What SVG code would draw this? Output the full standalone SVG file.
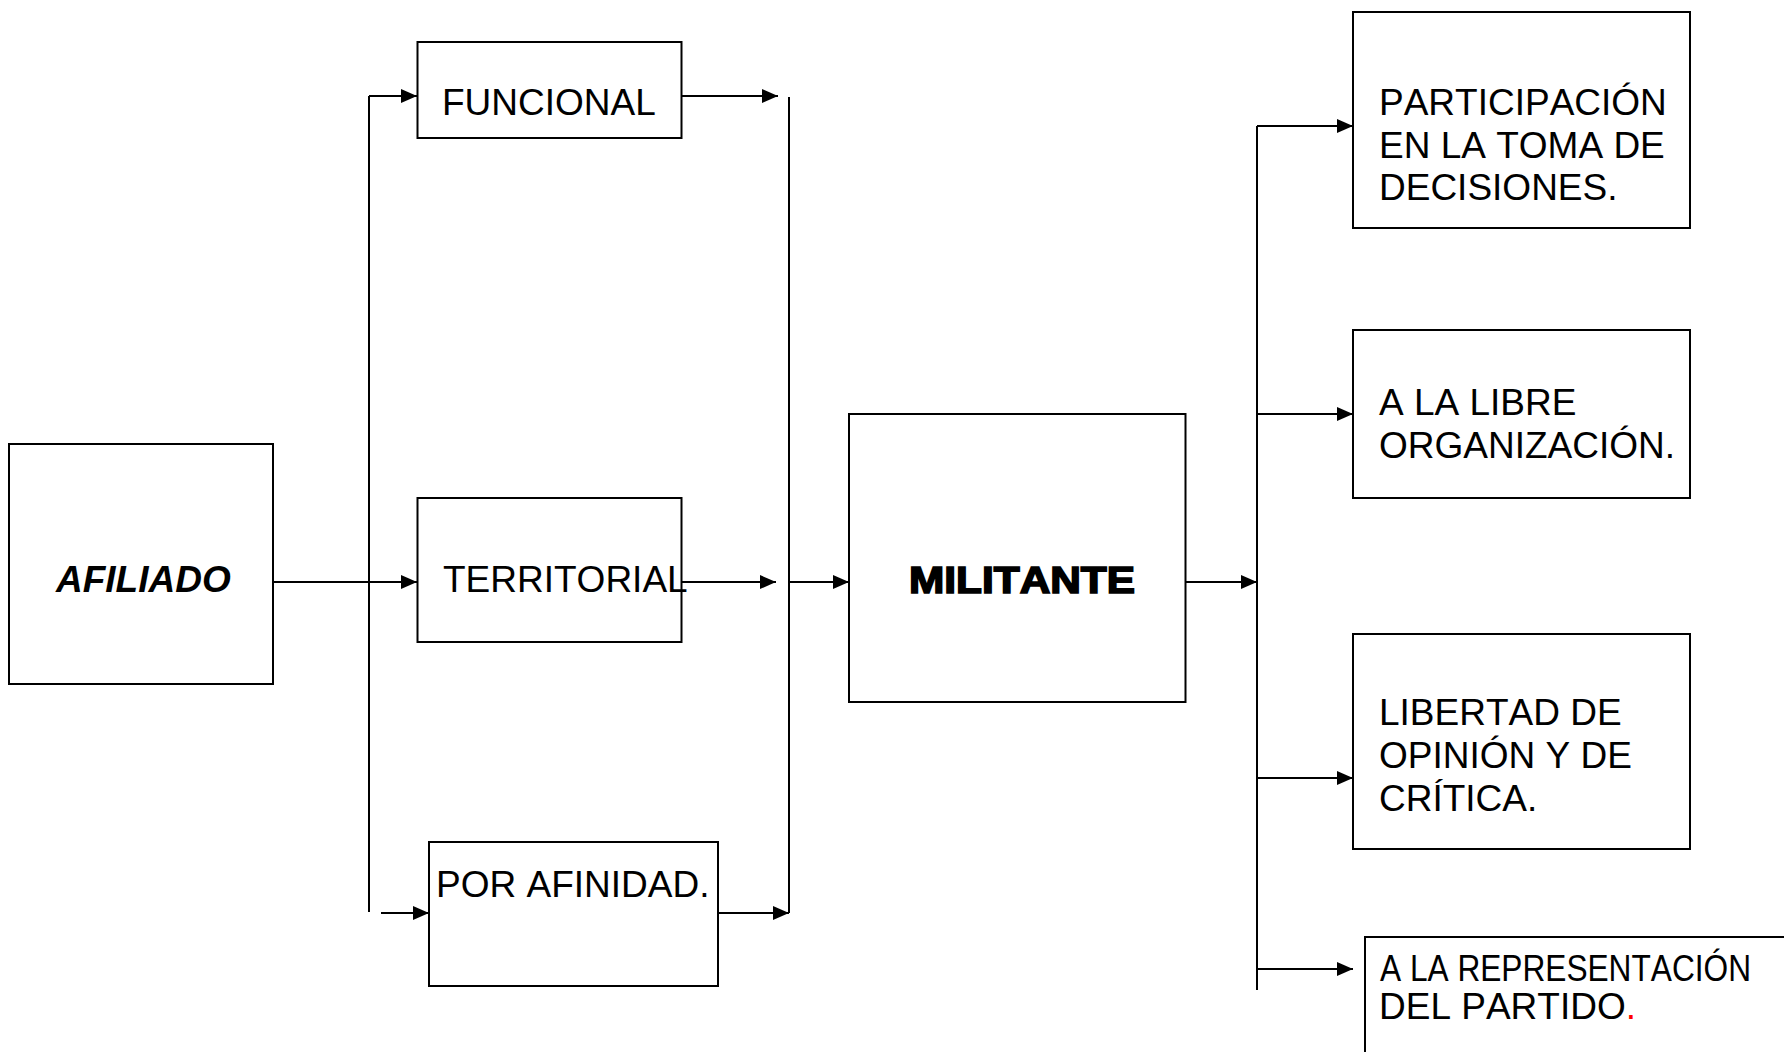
<svg xmlns="http://www.w3.org/2000/svg" width="1784" height="1052" viewBox="0 0 1784 1052">
  <defs>
    <marker id="arrow" markerUnits="userSpaceOnUse" markerWidth="16" markerHeight="14" refX="16" refY="7" orient="auto">
      <path d="M0,0 L16,7 L0,14 z" fill="#000"/>
    </marker>
    <style>
      .box { fill: #fff; stroke: #000; stroke-width: 2; }
      .txt { font-family: "Liberation Sans", Arial, sans-serif; font-size: 37px; fill: #000; font-kerning: none; }
      .bi { font-weight: bold; font-style: italic; }
      .heavy { font-weight: bold; stroke: #000; stroke-width: 1.6; }
      .wire { fill: none; stroke: #000; stroke-width: 2; }
      .arr { fill: none; stroke: #000; stroke-width: 2; marker-end: url(#arrow); }
    </style>
  </defs>
  <rect width="1784" height="1052" fill="#fff"/>

  <!-- connectors -->
  <g id="connectors">
    <!-- left bus: AFILIADO to the three kinds -->
    <path class="wire" d="M369,96 V912"/>
    <path class="arr" d="M369,96 H417"/>
    <path class="arr" d="M273,582 H417"/>
    <path class="arr" d="M381,913 H429"/>
    <!-- middle bus: kinds to MILITANTE -->
    <path class="wire" d="M789,97 V913"/>
    <path class="arr" d="M681.5,96 H778"/>
    <path class="arr" d="M681.5,582 H776"/>
    <path class="arr" d="M718,913 H789"/>
    <path class="arr" d="M789,582 H849"/>
    <!-- right bus: MILITANTE to the rights -->
    <path class="arr" d="M1185.5,582 H1257"/>
    <path class="wire" d="M1257,126 V990"/>
    <path class="arr" d="M1257,126 H1353"/>
    <path class="arr" d="M1257,414 H1353"/>
    <path class="arr" d="M1257,778 H1353"/>
    <path class="arr" d="M1257,969 H1353"/>
  </g>

  <g id="afiliado">
    <rect class="box" x="9" y="444" width="264" height="240"/>
    <text class="txt bi" x="56" y="592">AFILIADO</text>
  </g>

  <g id="funcional">
    <rect class="box" x="417.5" y="42" width="264" height="96"/>
    <text class="txt" x="442" y="115">FUNCIONAL</text>
  </g>

  <g id="territorial">
    <rect class="box" x="417.5" y="498" width="264" height="144"/>
    <text class="txt" x="443" y="592">TERRITORIAL</text>
  </g>

  <g id="afinidad">
    <rect class="box" x="429" y="842" width="289" height="144"/>
    <text class="txt" x="436" y="897">POR AFINIDAD.</text>
  </g>

  <g id="militante">
    <rect class="box" x="849" y="414" width="336.5" height="288"/>
    <text class="txt heavy" x="909" y="593" textLength="226" lengthAdjust="spacingAndGlyphs">MILITANTE</text>
  </g>

  <g id="participacion">
    <rect class="box" x="1353" y="12" width="337" height="216"/>
    <text class="txt" x="1379" y="115">PARTICIPACIÓN</text>
    <text class="txt" x="1379" y="158">EN LA TOMA DE</text>
    <text class="txt" x="1379" y="200">DECISIONES.</text>
  </g>

  <g id="organizacion">
    <rect class="box" x="1353" y="330" width="337" height="168"/>
    <text class="txt" x="1379" y="415">A LA LIBRE</text>
    <text class="txt" x="1379" y="458">ORGANIZACIÓN.</text>
  </g>

  <g id="libertad">
    <rect class="box" x="1353" y="634" width="337" height="215"/>
    <text class="txt" x="1379" y="725">LIBERTAD DE</text>
    <text class="txt" x="1379" y="768">OPINIÓN Y DE</text>
    <text class="txt" x="1379" y="811">CRÍTICA.</text>
  </g>

  <g id="representacion">
    <rect class="box" x="1365" y="937" width="440" height="140"/>
    <text class="txt" x="1380" y="981" textLength="371" lengthAdjust="spacingAndGlyphs">A LA REPRESENTACIÓN</text>
    <text class="txt" x="1379" y="1019">DEL PARTIDO<tspan fill="#ff0000">.</tspan></text>
  </g>
</svg>
